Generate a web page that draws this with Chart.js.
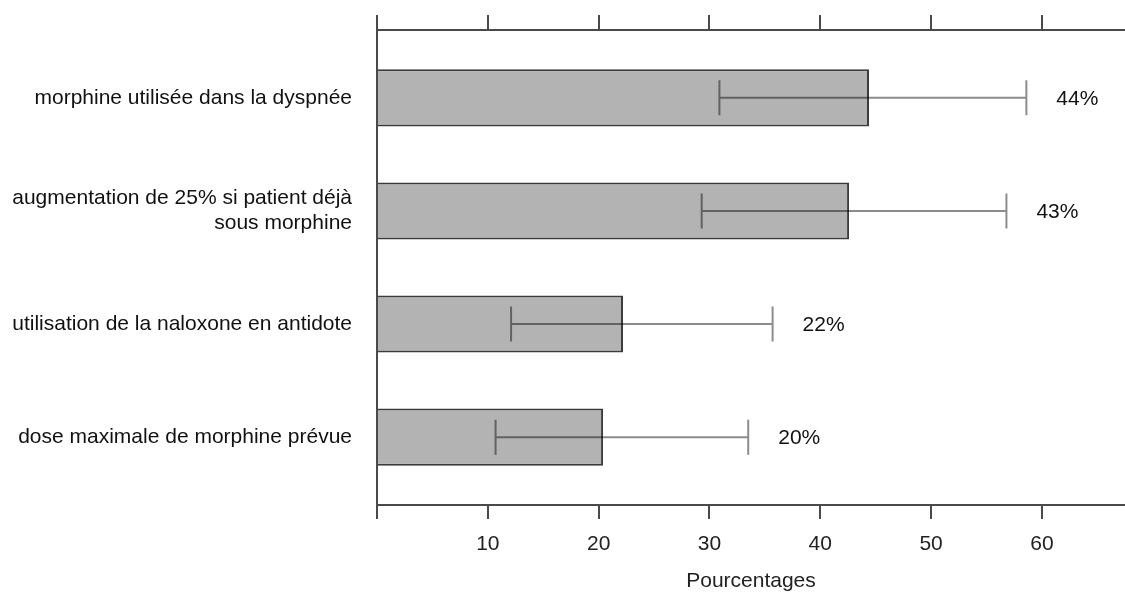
<!DOCTYPE html>
<html>
<head>
<meta charset="utf-8">
<script src="https://cdn.jsdelivr.net/npm/chart.js@4.4.1/dist/chart.umd.min.js"></script>
<style>
  html, body { margin: 0; padding: 0; background: #fff; }
  #wrap { width: 1125px; height: 597px; }
</style>
</head>
<body>
<div id="wrap"><canvas id="barChart"></canvas></div>
<script>
const categories = [
  "morphine utilisée dans la dyspnée",
  ["augmentation de 25% si patient déjà", "sous morphine"],
  "utilisation de la naloxone en antidote",
  "dose maximale de morphine prévue",
];
const values = [44.4, 42.6, 22.2, 20.4];
const errLow = [30.9, 29.3, 12.1, 10.7];
const errHigh = [58.6, 56.8, 35.7, 33.5];
const pctLabels = ["44%", "43%", "22%", "20%"];
const xTicks = [0, 10, 20, 30, 40, 50, 60];

const axisColor = "#4a4a4a";
const font = { family: "'Liberation Sans', Arial, sans-serif", size: 21 };

// error bars + percentage labels, drawn through the chart scales
const errorBars = {
  id: "errorBars",
  afterDatasetsDraw(chart) {
    const { ctx, scales } = chart;
    const x = scales.x;
    const y = scales.y;
    ctx.save();
    ctx.strokeStyle = "rgba(0,0,0,0.45)";
    ctx.lineWidth = 2;
    for (let i = 0; i < values.length; i++) {
      const yc = y.getPixelForValue(i);
      const x0 = x.getPixelForValue(errLow[i]);
      const x1 = x.getPixelForValue(errHigh[i]);
      ctx.beginPath();
      ctx.moveTo(x0, yc - 17.5);
      ctx.lineTo(x0, yc + 17.5);
      ctx.moveTo(x0 + 1, yc);
      ctx.lineTo(x1 - 1, yc);
      ctx.moveTo(x1, yc - 17.5);
      ctx.lineTo(x1, yc + 17.5);
      ctx.stroke();

      ctx.fillStyle = "#111";
      ctx.font = font.size + "px " + font.family;
      ctx.textAlign = "left";
      ctx.textBaseline = "middle";
      ctx.fillText(pctLabels[i], x1 + 30, yc + 1);
    }
    ctx.restore();
  },
};

const ctx = document.getElementById("barChart").getContext("2d");

const chart = new Chart(ctx, {
  type: "bar",
  data: {
    datasets: [
      {
        data: values.map((v, i) => ({ x: v, y: i })),
        backgroundColor: "#b3b3b3",
        borderColor: "#3c3c3c",
        borderWidth: 2,
        categoryPercentage: 1,
        barPercentage: 0.505,
      },
    ],
  },
  options: {
    indexAxis: "y",
    responsive: true,
    maintainAspectRatio: false,
    animation: false,
    layout: { padding: 0 },
    plugins: {
      legend: { display: false },
      tooltip: { enabled: false },
    },
    scales: {
      x: {
        type: "linear",
        position: "bottom",
        min: 0,
        max: 67.5,
        afterFit: (scale) => { scale.height = 92; },
        afterBuildTicks: (scale) => { scale.ticks = xTicks.map((v) => ({ value: v })); },
        border: { display: true, color: axisColor, width: 2 },
        grid: { drawOnChartArea: false, drawTicks: true, tickLength: 14, color: axisColor, lineWidth: 2 },
        ticks: {
          padding: 13,
          color: "#222",
          font: font,
          maxRotation: 0,
          callback: (v) => (v === 0 ? "" : v),
        },
        title: {
          display: true,
          text: "Pourcentages",
          color: "#222",
          font: font,
          padding: { top: 0, bottom: 3 },
        },
      },
      xTop: {
        type: "linear",
        position: "top",
        min: 0,
        max: 67.5,
        afterFit: (scale) => { scale.height = 30; },
        afterBuildTicks: (scale) => { scale.ticks = xTicks.map((v) => ({ value: v })); },
        border: { display: true, color: axisColor, width: 2 },
        grid: { drawOnChartArea: false, drawTicks: true, tickLength: 15, color: axisColor, lineWidth: 2 },
        ticks: { padding: 0, callback: () => "" },
      },
      y: {
        type: "linear",
        reverse: true,
        offset: false,
        min: -0.6,
        max: 3.6,
        afterFit: (scale) => {
          scale.width = 377;
          scale.paddingTop = 0;
          scale.paddingBottom = 0;
        },
        afterBuildTicks: (scale) => { scale.ticks = categories.map((c, i) => ({ value: i })); },
        border: { display: true, color: axisColor, width: 2 },
        grid: { display: false, drawTicks: false, offset: false },
        ticks: {
          padding: 25,
          color: "#111",
          font: font,
          callback: (v) => categories[v],
        },
      },
    },
  },
  plugins: [errorBars],
});
</script>
</body>
</html>
